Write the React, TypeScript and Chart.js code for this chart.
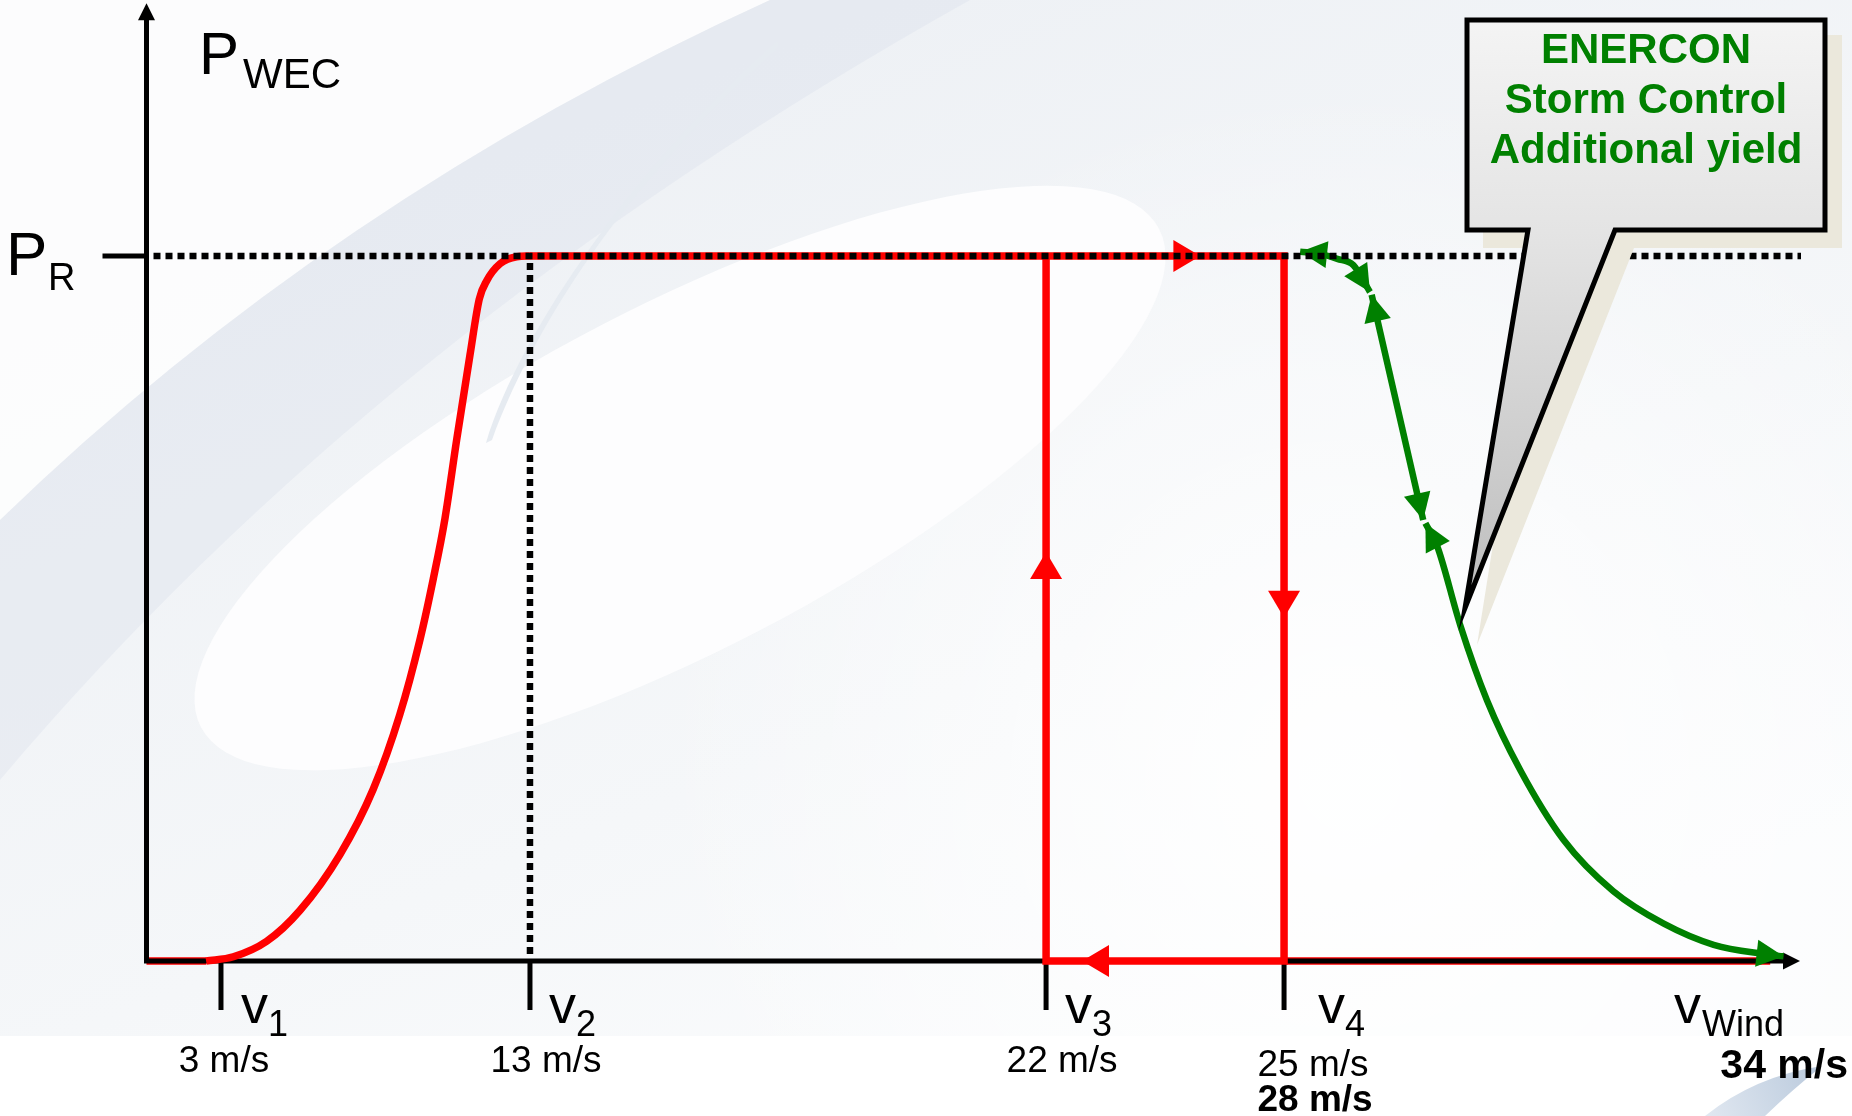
import React, { useEffect, useRef } from 'react';
import { Chart, LinearScale, registerables } from 'chart.js';

// ---------------- Data (wind speed in m/s, power as fraction of rated power P_R) ----------------
const RATED_POWER = 1;
const TICK_SPEEDS = [3, 13, 22, 25];
const TICK_NAMES = ['1', '2', '3', '4'];
const TICK_SPEED_LABELS = ['3 m/s', '13 m/s', '22 m/s', '25 m/s'];
const STORM_V4_LABEL = '28 m/s';
const STORM_END_LABEL = '34 m/s';
const CALLOUT_LINES = ['ENERCON', 'Storm Control', 'Additional yield'];

const RISE_SPEED = [2.4, 3.4, 4.48, 5.56, 6.85, 7.93, 8.79, 9.44, 9.87, 10.25, 10.63, 11.06, 11.36, 11.6, 12.03, 12.57, 13];
const RISE_POWER = [0, 0.006, 0.028, 0.072, 0.151, 0.244, 0.35, 0.456, 0.542, 0.628, 0.74, 0.86, 0.939, 0.965, 0.989, 0.999, 1];

const HYSTERESIS_SPEED = [13, 25, 25, 22, 22];
const HYSTERESIS_POWER = [1, 1, 0, 0, 1];

const IDLE_SPEED = [0, 2.4, 13, 25, 33.77];
const IDLE_POWER: (number | null)[] = [0, 0, null, 0, 0];

const STORM_A_SPEED = [25.29, 25.65, 25.96, 26.25, 26.55];
const STORM_A_POWER = [1.006, 1.003, 0.996, 0.987, 0.949];
const STORM_B_SPEED = [26.58, 27.51];
const STORM_B_POWER = [0.945, 0.6255];
const STORM_C_SPEED = [27.55, 27.76, 28.18, 28.66, 29.26, 30.04, 30.94, 31.85, 32.75, 33.65, 34.01];
const STORM_C_POWER = [0.621, 0.589, 0.476, 0.37, 0.271, 0.172, 0.099, 0.053, 0.023, 0.0099, 0.0066];

// ---------------- Axis calibration (the diagram's speed axis is not drawn to scale) ----------------
const AXIS_BREAK_SPEEDS = [0, 3, 13, 22, 25, 34];
const AXIS_BREAK_FRACTIONS = [0, 0.0451, 0.2322, 0.5447, 0.6888, 0.9909];

function speedToFraction(v: number): number {
  const s = AXIS_BREAK_SPEEDS, f = AXIS_BREAK_FRACTIONS;
  let i = 0;
  while (i < s.length - 2 && v > s[i + 1]) i++;
  return f[i] + ((v - s[i]) / (s[i + 1] - s[i])) * (f[i + 1] - f[i]);
}
function fractionToSpeed(d: number): number {
  const s = AXIS_BREAK_SPEEDS, f = AXIS_BREAK_FRACTIONS;
  let i = 0;
  while (i < f.length - 2 && d > f[i + 1]) i++;
  return s[i] + ((d - f[i]) / (f[i + 1] - f[i])) * (s[i + 1] - s[i]);
}

class BrokenLinearScale extends LinearScale {
  static id = 'brokenLinear';
  static defaults = LinearScale.defaults;
  getPixelForValue(value: number) {
    return this.getPixelForDecimal(speedToFraction(value));
  }
  getValueForPixel(pixel: number) {
    return fractionToSpeed(this.getDecimalForPixel(pixel));
  }
}

Chart.register(...registerables, BrokenLinearScale as any);

const zip = (xs: number[], ys: (number | null)[]) => xs.map((x, i) => ({ x, y: ys[i] }));

const RED = '#ff0000';
const GREEN = '#008000';
const FONT = "'Liberation Sans', Arial, Helvetica, sans-serif";

// ---------------- drawing helpers ----------------
function arrowHead(ctx: CanvasRenderingContext2D, tx: number, ty: number, fx: number, fy: number, len: number, halfW: number, color: string) {
  const a = Math.atan2(ty - fy, tx - fx);
  ctx.save();
  ctx.translate(tx, ty);
  ctx.rotate(a);
  ctx.beginPath();
  ctx.moveTo(0, 0);
  ctx.lineTo(-len, halfW);
  ctx.lineTo(-len, -halfW);
  ctx.closePath();
  ctx.fillStyle = color;
  ctx.fill();
  ctx.restore();
}

function drawBackground(ctx: CanvasRenderingContext2D, w: number, h: number) {
  ctx.save();
  ctx.fillStyle = '#ffffff';
  ctx.fillRect(0, 0, w, h);
  const top = 1036;
  ctx.beginPath();
  ctx.rect(0, 0, w, top);
  ctx.clip();
  const g = ctx.createLinearGradient(900, 0, 1300, top);
  g.addColorStop(0, '#eef1f5');
  g.addColorStop(0.6, '#f5f7f9');
  g.addColorStop(1, '#fbfcfd');
  ctx.fillStyle = g;
  ctx.fillRect(0, 0, w, top);
  // whiter upper-left region
  ctx.beginPath();
  ctx.moveTo(0, 0);
  ctx.lineTo(770, 0);
  ctx.quadraticCurveTo(330, 200, 0, 520);
  ctx.closePath();
  ctx.fillStyle = 'rgba(255,255,255,0.8)';
  ctx.fill();
  // gray band
  ctx.beginPath();
  ctx.moveTo(770, 0);
  ctx.lineTo(970, 0);
  ctx.quadraticCurveTo(380, 330, 0, 780);
  ctx.lineTo(0, 520);
  ctx.quadraticCurveTo(330, 200, 770, 0);
  ctx.closePath();
  ctx.fillStyle = 'rgba(214,222,232,0.32)';
  ctx.fill();
  // lower-right whitening
  const rg = ctx.createRadialGradient(1350, 780, 50, 1350, 780, 700);
  rg.addColorStop(0, 'rgba(255,255,255,0.9)');
  rg.addColorStop(1, 'rgba(255,255,255,0)');
  ctx.fillStyle = rg;
  ctx.fillRect(0, 0, w, top);
  // egg
  ctx.save();
  ctx.translate(680, 478);
  ctx.rotate(-27.5 * Math.PI / 180);
  ctx.beginPath();
  ctx.ellipse(0, 0, 540, 172, 0, 0, Math.PI * 2);
  ctx.fillStyle = '#fdfdfe';
  ctx.fill();
  ctx.restore();
  // leaf crescent
  ctx.beginPath();
  ctx.moveTo(486, 443);
  ctx.bezierCurveTo(520, 330, 640, 160, 777, 41);
  ctx.bezierCurveTo(780, 44, 778, 48, 774, 52);
  ctx.bezierCurveTo(640, 170, 540, 310, 492, 440);
  ctx.closePath();
  ctx.fillStyle = '#e6ebf1';
  ctx.fill();
  ctx.restore();
  // bottom-right logo fragment
  ctx.save();
  ctx.beginPath();
  ctx.moveTo(1705, 1116);
  ctx.quadraticCurveTo(1755, 1076, 1822, 1066);
  ctx.quadraticCurveTo(1792, 1090, 1765, 1116);
  ctx.closePath();
  const lg = ctx.createLinearGradient(1705, 1116, 1822, 1066);
  lg.addColorStop(0, '#e1e8f1');
  lg.addColorStop(1, '#b9c9dc');
  ctx.fillStyle = lg;
  ctx.fill();
  ctx.restore();
}

function drawAxes(chart: any) {
  const ctx: CanvasRenderingContext2D = chart.ctx;
  const xs = chart.scales.x, ys = chart.scales.y;
  const x0 = xs.getPixelForValue(0);
  const y0 = ys.getPixelForValue(0);
  const yR = ys.getPixelForValue(RATED_POWER);
  const tipX = chart.chartArea.right + 2;
  const tipY = chart.chartArea.top - 6;
  ctx.save();
  ctx.strokeStyle = '#000';
  ctx.lineWidth = 5;
  ctx.lineCap = 'butt';
  ctx.beginPath();
  ctx.moveTo(x0, y0 + 2.5);
  ctx.lineTo(x0, tipY + 14);
  ctx.moveTo(x0 - 2.5, y0);
  ctx.lineTo(tipX - 14, y0);
  ctx.moveTo(x0 - 44, yR);
  ctx.lineTo(x0, yR);
  TICK_SPEEDS.forEach((v) => {
    const px = xs.getPixelForValue(v);
    ctx.moveTo(px, y0);
    ctx.lineTo(px, y0 + 49);
  });
  ctx.stroke();
  arrowHead(ctx, x0, tipY, x0, tipY + 30, 17, 8.5, '#000');
  arrowHead(ctx, tipX, y0, tipX - 30, y0, 17, 8.5, '#000');
  ctx.restore();
}

const RED_ARROWS = [
  { seg: 0, t: 0.889 },
  { seg: 1, t: 0.513 },
  { seg: 2, t: 0.849 },
  { seg: 3, t: 0.58 },
];

function drawArrowHeads(chart: any) {
  const ctx: CanvasRenderingContext2D = chart.ctx;
  chart.data.datasets.forEach((ds: any, i: number) => {
    const meta = chart.getDatasetMeta(i);
    const pts = meta.data.map((p: any) => ({ x: p.x, y: p.y }));
    if (ds.label === 'hysteresis') {
      RED_ARROWS.forEach(({ seg, t }) => {
        const a = pts[seg], b = pts[seg + 1];
        const tx = a.x + (b.x - a.x) * t, ty = a.y + (b.y - a.y) * t;
        arrowHead(ctx, tx, ty, a.x, a.y, 27, 16, RED);
      });
    }
    if (ds.label && ds.label.startsWith('storm')) {
      const n = pts.length;
      arrowHead(ctx, pts[0].x, pts[0].y, pts[1].x, pts[1].y, 27, 13.5, GREEN);
      arrowHead(ctx, pts[n - 1].x, pts[n - 1].y, pts[n - 2].x, pts[n - 2].y, 27, 13.5, GREEN);
    }
  });
}

function drawDotted(chart: any) {
  const ctx: CanvasRenderingContext2D = chart.ctx;
  const xs = chart.scales.x, ys = chart.scales.y;
  const x0 = xs.getPixelForValue(0);
  const y0 = ys.getPixelForValue(0);
  const yR = ys.getPixelForValue(RATED_POWER);
  const xV2 = xs.getPixelForValue(TICK_SPEEDS[1]);
  ctx.save();
  ctx.strokeStyle = '#000';
  ctx.lineWidth = 6.5;
  ctx.setLineDash([7, 5]);
  ctx.beginPath();
  ctx.moveTo(x0 + 7, yR);
  ctx.lineTo(chart.chartArea.right + 3, yR);
  ctx.stroke();
  ctx.beginPath();
  ctx.moveTo(xV2, yR + 7);
  ctx.lineTo(xV2, y0 - 2);
  ctx.stroke();
  ctx.restore();
}

function drawCallout(ctx: CanvasRenderingContext2D) {
  ctx.save();
  // shadow
  ctx.beginPath();
  ctx.moveTo(1483, 35);
  ctx.lineTo(1842, 35);
  ctx.lineTo(1842, 248);
  ctx.lineTo(1634, 248);
  ctx.lineTo(1477, 645);
  ctx.lineTo(1540, 248);
  ctx.lineTo(1483, 248);
  ctx.closePath();
  ctx.fillStyle = '#ebe8dc';
  ctx.fill();
  // bubble
  ctx.beginPath();
  ctx.moveTo(1467, 20);
  ctx.lineTo(1825, 20);
  ctx.lineTo(1825, 230);
  ctx.lineTo(1615, 230);
  ctx.lineTo(1465, 608);
  ctx.lineTo(1528, 230);
  ctx.lineTo(1467, 230);
  ctx.closePath();
  const g = ctx.createLinearGradient(0, 20, 0, 608);
  g.addColorStop(0, '#f4f4f4');
  g.addColorStop(0.36, '#e4e4e4');
  g.addColorStop(1, '#bdbdbd');
  ctx.fillStyle = g;
  ctx.fill();
  ctx.lineWidth = 5;
  ctx.lineJoin = 'miter';
  ctx.strokeStyle = '#000';
  ctx.stroke();
  ctx.fillStyle = GREEN;
  ctx.font = `bold 42px ${FONT}`;
  ctx.textAlign = 'center';
  ctx.textBaseline = 'alphabetic';
  CALLOUT_LINES.forEach((line, i) => ctx.fillText(line, 1646, 63 + i * 50));
  ctx.restore();
}

function drawLabels(chart: any) {
  const ctx: CanvasRenderingContext2D = chart.ctx;
  const xs = chart.scales.x, ys = chart.scales.y;
  const yR = ys.getPixelForValue(RATED_POWER);
  ctx.save();
  ctx.fillStyle = '#000';
  ctx.textBaseline = 'alphabetic';
  ctx.textAlign = 'left';
  // P_WEC
  ctx.font = `60px ${FONT}`;
  ctx.fillText('P', 199, 74);
  ctx.font = `42px ${FONT}`;
  ctx.fillText('WEC', 243, 88);
  // P_R
  ctx.font = `62px ${FONT}`;
  ctx.fillText('P', 6, yR + 19);
  ctx.font = `38px ${FONT}`;
  ctx.fillText('R', 48, yR + 34);
  // v labels
  const vOffsets = [20, 19, 19, 34];
  const speedCenters = [3, 16, 16, 29];
  TICK_SPEEDS.forEach((v, i) => {
    const px = xs.getPixelForValue(v);
    ctx.textAlign = 'left';
    ctx.font = `54px ${FONT}`;
    ctx.fillText('v', px + vOffsets[i], 1023);
    ctx.font = `36px ${FONT}`;
    ctx.fillText(TICK_NAMES[i], px + vOffsets[i] + 27, 1036);
    ctx.textAlign = 'center';
    ctx.font = `37px ${FONT}`;
    ctx.fillText(TICK_SPEED_LABELS[i], px + speedCenters[i], i === 3 ? 1076 : 1072);
  });
  const pxV4 = xs.getPixelForValue(TICK_SPEEDS[3]);
  ctx.textAlign = 'center';
  ctx.font = `bold 37px ${FONT}`;
  ctx.fillText(STORM_V4_LABEL, pxV4 + 31, 1111);
  // v_wind
  ctx.textAlign = 'left';
  ctx.font = `54px ${FONT}`;
  ctx.fillText('v', 1674, 1023);
  ctx.font = `36px ${FONT}`;
  ctx.fillText('Wind', 1702, 1036);
  ctx.textAlign = 'right';
  ctx.font = `bold 41px ${FONT}`;
  ctx.fillText(STORM_END_LABEL, 1848, 1078);
  ctx.restore();
}

const diagramPlugin = {
  id: 'diagram',
  beforeDraw(chart: any) {
    drawBackground(chart.ctx, chart.width, chart.height);
  },
  afterDatasetDraw(chart: any, args: any) {
    if (chart.data.datasets[args.index].label === 'idle') drawAxes(chart);
  },
  afterDatasetsDraw(chart: any) {
    drawArrowHeads(chart);
    drawDotted(chart);
    drawCallout(chart.ctx);
  },
  afterDraw(chart: any) {
    drawLabels(chart);
  },
};

export default function App() {
  const ref = useRef<HTMLCanvasElement | null>(null);
  useEffect(() => {
    if (!ref.current) return;
    const common = { pointRadius: 0, pointHoverRadius: 0, fill: false, clip: false as any, borderCapStyle: 'butt' as const };
    const chart = new Chart(ref.current, {
      type: 'line',
      data: {
        datasets: [
          { label: 'idle', data: zip(IDLE_SPEED, IDLE_POWER), borderColor: RED, borderWidth: 7.5, tension: 0, spanGaps: false, order: 10, ...common },
          { label: 'rise', data: zip(RISE_SPEED, RISE_POWER), borderColor: RED, borderWidth: 7.5, cubicInterpolationMode: 'monotone', order: 3, ...common },
          { label: 'hysteresis', data: zip(HYSTERESIS_SPEED, HYSTERESIS_POWER), borderColor: RED, borderWidth: 7.5, tension: 0, borderJoinStyle: 'miter', order: 3, ...common },
          { label: 'stormA', data: zip(STORM_A_SPEED, STORM_A_POWER), borderColor: GREEN, borderWidth: 6.5, cubicInterpolationMode: 'monotone', order: 1, ...common },
          { label: 'stormB', data: zip(STORM_B_SPEED, STORM_B_POWER), borderColor: GREEN, borderWidth: 6.5, tension: 0, order: 1, ...common },
          { label: 'stormC', data: zip(STORM_C_SPEED, STORM_C_POWER), borderColor: GREEN, borderWidth: 6.5, cubicInterpolationMode: 'monotone', order: 1, ...common },
        ] as any,
      },
      options: {
        animation: false,
        responsive: false,
        devicePixelRatio: 1,
        layout: { padding: { left: 146.5, right: 54, top: 9.25, bottom: 155 } },
        scales: {
          x: { type: 'brokenLinear' as any, min: 0, max: 34.27, display: false },
          y: { type: 'linear', min: 0, max: 1.35, display: false },
        },
        plugins: { legend: { display: false }, tooltip: { enabled: false }, title: { display: false } },
        events: [],
      },
      plugins: [diagramPlugin],
    });
    return () => chart.destroy();
  }, []);
  return (
    <div style={{ position: 'absolute', left: 0, top: 0, width: 1852, height: 1116 }}>
      <canvas ref={ref} width={1852} height={1116} style={{ display: 'block', width: 1852, height: 1116 }} />
    </div>
  );
}
